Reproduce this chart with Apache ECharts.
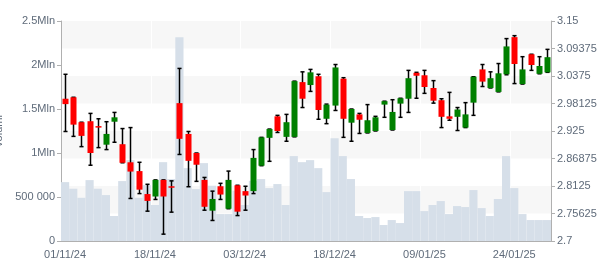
<!DOCTYPE html>
<html>
<head>
<meta charset="utf-8">
<script src="https://cdn.jsdelivr.net/npm/echarts@6/dist/echarts.min.js"></script>
<style>
  html, body { margin: 0; padding: 0; background: #fff; }
  #chart { width: 600px; height: 270px; }
</style>
</head>
<body>
<div id="chart"></div>
<script>
var dates = ['01/11/24','04/11/24','05/11/24','06/11/24','07/11/24','08/11/24','11/11/24','12/11/24','13/11/24','14/11/24',
  '15/11/24','18/11/24','19/11/24','20/11/24','21/11/24','22/11/24','25/11/24','26/11/24','27/11/24','28/11/24',
  '29/11/24','02/12/24','03/12/24','04/12/24','05/12/24','06/12/24','09/12/24','10/12/24','11/12/24','12/12/24',
  '13/12/24','16/12/24','17/12/24','18/12/24','19/12/24','20/12/24','23/12/24','27/12/24','30/12/24','02/01/25',
  '03/01/25','06/01/25','07/01/25','08/01/25','09/01/25','10/01/25','13/01/25','14/01/25','15/01/25','16/01/25',
  '17/01/25','20/01/25','21/01/25','22/01/25','23/01/25','24/01/25','27/01/25','28/01/25','29/01/25','30/01/25'];

var open = [2.991,2.994,2.943,2.945,2.935,2.897,2.944,2.898,2.861,2.843,
  2.796,2.791,2.825,2.812,2.982,2.919,2.880,2.825,2.762,2.812,
  2.766,2.814,2.802,2.802,2.854,2.911,2.955,2.913,2.913,3.025,
  3.019,3.037,2.950,2.977,3.032,2.942,2.959,2.921,2.925,2.979,
  2.927,2.981,2.991,3.044,3.039,3.013,2.988,2.955,2.954,2.932,
  2.983,3.051,3.013,3.005,3.041,3.117,3.021,3.082,3.042,3.045];
var close = [2.980,2.938,2.915,2.880,2.932,2.919,2.953,2.860,2.842,2.805,
  2.782,2.825,2.791,2.809,2.909,2.864,2.856,2.770,2.786,2.795,
  2.825,2.760,2.793,2.870,2.912,2.929,2.925,2.943,3.027,2.991,
  3.045,2.968,2.979,3.055,2.950,2.970,2.948,2.947,2.953,2.986,
  2.964,2.992,3.033,3.038,3.015,2.987,2.954,2.950,2.969,2.959,
  3.036,3.026,3.033,3.043,3.098,3.062,3.051,3.060,3.058,3.076];
var low = [2.924,2.914,2.893,2.855,2.891,2.887,2.902,2.860,2.787,2.797,
  2.761,2.785,2.714,2.759,2.877,2.811,2.822,2.763,2.742,2.785,
  2.766,2.752,2.763,2.797,2.854,2.863,2.922,2.904,2.913,2.973,
  3.006,2.949,2.940,2.967,2.912,2.904,2.920,2.921,2.925,2.953,
  2.927,2.953,2.963,2.992,3.002,2.982,2.932,2.947,2.926,2.932,
  2.957,3.016,3.013,3.005,3.040,3.022,3.021,3.049,3.042,3.045];
var high = [3.041,2.994,2.943,2.961,2.950,2.944,2.963,2.930,2.932,2.861,
  2.816,2.825,2.825,2.823,3.053,2.924,2.880,2.830,2.802,2.818,
  2.843,2.814,2.812,2.887,2.912,2.929,2.957,2.959,3.027,3.046,
  3.051,3.041,2.980,3.061,3.034,2.970,2.961,2.979,2.955,2.986,
  2.989,2.992,3.049,3.045,3.049,3.028,2.991,3.004,2.973,2.983,
  3.036,3.061,3.046,3.063,3.114,3.120,3.077,3.082,3.077,3.092];
var volume = [669000,594000,491000,692000,594000,522000,284000,681000,919000,491000,
  635000,409000,896000,704000,2315000,828000,590000,885000,628000,306000,
  306000,571000,409000,684000,704000,601000,647000,409000,965000,896000,
  919000,828000,556000,1169000,965000,704000,284000,261000,272000,182000,
  238000,204000,567000,567000,340000,409000,454000,306000,397000,386000,
  579000,374000,284000,477000,965000,601000,306000,238000,238000,238000];

var candles = [];
for (var i = 0; i < dates.length; i++) {
  candles.push([i, open[i], close[i], low[i], high[i]]);
}

var txtColor = '#5f6b7a';
var lineColor = '#b0b0b0';
var font = 'Liberation Sans, Arial, sans-serif';

function volFmt(v) {
  if (v === 0) return '0';
  if (v < 1000000) return String(v).replace(/\B(?=(\d{3})+(?!\d))/g, ' ');
  return (v / 1000000) + 'Mln';
}

var renderCandle = function (params, api) {
  var idx = api.value(0);
  var pO = api.coord([idx, api.value(1)]);
  var pC = api.coord([idx, api.value(2)]);
  var pL = api.coord([idx, api.value(3)]);
  var pH = api.coord([idx, api.value(4)]);
  var x = Math.round(pO[0]) + 0.5;
  var band = api.size([1, 0])[0];
  var bw = Math.round(band * 0.72);
  var cw = band * 0.5;
  var up = api.value(2) >= api.value(1);
  var top = Math.min(pO[1], pC[1]);
  var h = Math.max(Math.abs(pO[1] - pC[1]), 1.5);
  var stroke = { stroke: '#000', lineWidth: 1.5 };
  return {
    type: 'group',
    children: [
      { type: 'line', shape: { x1: x, y1: pH[1], x2: x, y2: pL[1] }, style: stroke },
      { type: 'line', shape: { x1: x - cw / 2, y1: pH[1], x2: x + cw / 2, y2: pH[1] }, style: stroke },
      { type: 'line', shape: { x1: x - cw / 2, y1: pL[1], x2: x + cw / 2, y2: pL[1] }, style: stroke },
      { type: 'rect', shape: { x: x - bw / 2, y: top, width: bw, height: h },
        style: { fill: up ? '#008000' : '#ff0000' } }
    ]
  };
};

var myChart = echarts.init(document.getElementById('chart'));
var option = {
  animation: false,
  textStyle: { fontFamily: font },
  grid: { left: 61, right: 49, top: 21, bottom: 29, containLabel: false, outerBoundsMode: 'none' },
  xAxis: [{
    type: 'category',
    data: dates,
    boundaryGap: true,
    axisLine: { lineStyle: { color: lineColor } },
    axisTick: { interval: 0, alignWithLabel: true, length: 3, lineStyle: { color: lineColor } },
    axisLabel: { interval: 10, color: txtColor, fontSize: 11, margin: 8, fontFamily: font },
    splitLine: { show: true, interval: 10, lineStyle: { color: '#ffffff', width: 1 } }
  }, {
    type: 'category',
    data: dates,
    position: 'bottom',
    boundaryGap: true,
    axisLine: { show: false },
    axisTick: { interval: 10, alignWithLabel: true, length: 5, lineStyle: { color: lineColor } },
    axisLabel: { show: false },
    splitLine: { show: false }
  }],
  yAxis: [{
    type: 'value',
    name: 'volumi',
    nameLocation: 'middle',
    nameGap: 49,
    nameTextStyle: { color: txtColor, fontSize: 11, fontFamily: font },
    min: 0,
    max: 2500000,
    interval: 500000,
    axisLine: { show: true, lineStyle: { color: lineColor } },
    axisTick: { show: true, length: 4, lineStyle: { color: lineColor } },
    axisLabel: { color: txtColor, fontSize: 11, margin: 6, formatter: volFmt, fontFamily: font },
    splitLine: { show: false }
  }, {
    type: 'value',
    position: 'right',
    min: 2.7,
    max: 3.15,
    interval: 0.05625,
    axisLine: { show: true, lineStyle: { color: lineColor } },
    axisTick: { show: true, length: 4, lineStyle: { color: lineColor } },
    axisLabel: {
      color: txtColor, fontSize: 11, margin: 6, fontFamily: font,
      formatter: function (v) { return String(parseFloat(v.toFixed(5))); }
    },
    splitLine: { show: false },
    splitArea: { show: true, areaStyle: { color: ['#ffffff', '#f7f7f7'] } }
  }],
  series: [{
    name: 'volumi',
    type: 'bar',
    data: volume,
    xAxisIndex: 0,
    yAxisIndex: 0,
    barWidth: '100%',
    barGap: 0,
    itemStyle: { color: '#d6dfe9' },
    z: 1
  }, {
    name: 'prezzo',
    type: 'custom',
    xAxisIndex: 0,
    yAxisIndex: 1,
    renderItem: renderCandle,
    encode: { x: 0, y: [1, 2, 3, 4] },
    data: candles,
    z: 3
  }]
};
myChart.setOption(option);
window.onresize = myChart.resize;
</script>
</body>
</html>
